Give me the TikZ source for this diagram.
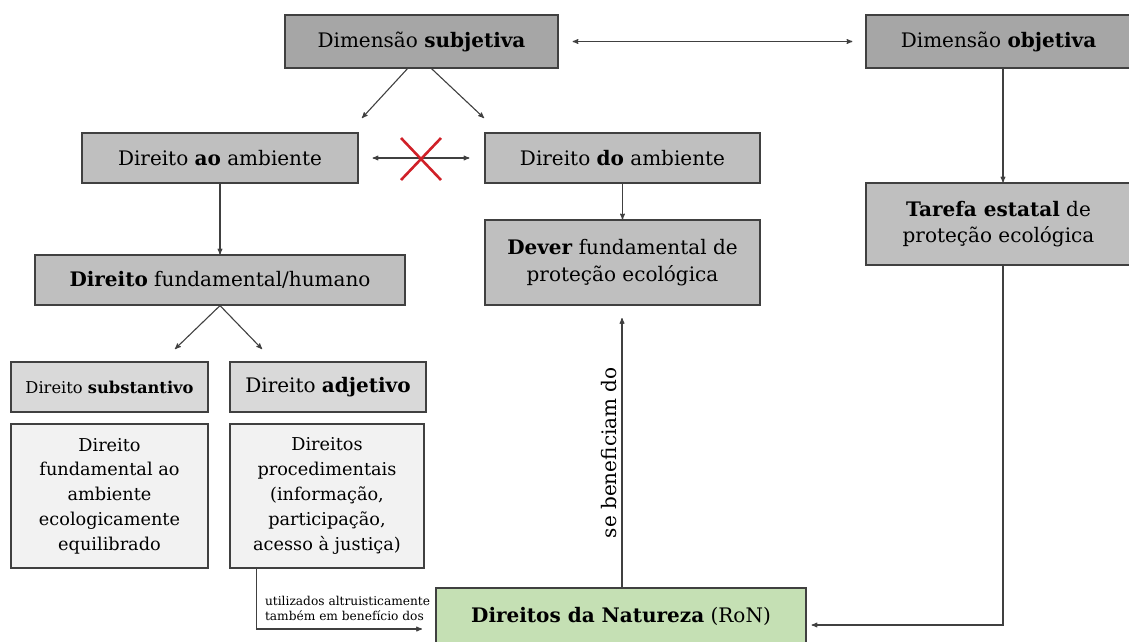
\documentclass[tikz,border=0pt]{standalone}
\usepackage{fontspec}
\setmainfont{DejaVu Serif}
\usepackage{tikz}
\usetikzlibrary{arrows}
\tikzset{>=stealth'}
\definecolor{boxline}{RGB}{64,64,64}
\definecolor{darkfill}{RGB}{166,166,166}
\definecolor{midfill}{RGB}{191,191,191}
\definecolor{lightfill}{RGB}{217,217,217}
\definecolor{palefill}{RGB}{242,242,242}
\definecolor{ronfill}{RGB}{197,224,180}
\definecolor{crossred}{RGB}{208,32,40}
\newcommand{\mainsz}{\fontsize{20}{26.5}\selectfont}
\newcommand{\bodysz}{\fontsize{17.7}{24.8}\selectfont}
\newcommand{\subsz}{\fontsize{16.3}{18}\selectfont}
\newcommand{\notesz}{\fontsize{12.2}{15}\selectfont}
\tikzset{
	box/.style={draw=boxline, line width=1.2pt, inner sep=0pt, align=center, font=\mainsz},
	darkbox/.style={box, fill=darkfill},
	midbox/.style={box, fill=midfill},
	lightbox/.style={box, fill=lightfill},
	palebox/.style={box, fill=palefill, font=\bodysz},
	ronbox/.style={box, fill=ronfill},
	link/.style={draw=boxline, line width=1.1pt},
}

\begin{document}
\begin{tikzpicture}[x=1pt,y=-1pt]
	\useasboundingbox (0,0) rectangle (1129,641);
	% top row
	\node[darkbox, minimum width=273pt, minimum height=53pt] (subj) at (421.5,41.5) {Dimensão \textbf{subjetiva}};
	\node[darkbox, minimum width=265pt, minimum height=53pt] (obj) at (998.5,41.5) {Dimensão \textbf{objetiva}};
	% second row
	\node[midbox, minimum width=276pt, minimum height=50pt] (ao) at (220,158) {Direito \textbf{ao} ambiente};
	\node[midbox, minimum width=275pt, minimum height=50pt] (do) at (622.5,158) {Direito \textbf{do} ambiente};
	\node[midbox, minimum width=370pt, minimum height=50pt] (fund) at (220,280) {\textbf{Direito} fundamental/humano};
	\node[midbox, minimum width=275pt, minimum height=85pt] (dever) at (622.5,262.5) {\textbf{Dever} fundamental de\\proteção ecológica};
	\node[midbox, minimum width=265pt, minimum height=82pt] (tarefa) at (998.5,224) {\textbf{Tarefa estatal} de\\proteção ecológica};
	% substantive / adjective
	\node[lightbox, minimum width=197pt, minimum height=50pt, font=\subsz] (subst) at (109.5,387) {Direito \textbf{substantivo}};
	\node[lightbox, minimum width=196pt, minimum height=50pt] (adj) at (328,387) {Direito \textbf{adjetivo}};
	\node[palebox, minimum width=197pt, minimum height=144pt] (substbody) at (109.5,496) {Direito\\fundamental ao\\ambiente\\ecologicamente\\equilibrado};
	\node[palebox, minimum width=194pt, minimum height=144pt] (adjbody) at (327,496) {Direitos\\procedimentais\\(informação,\\participação,\\acesso à justiça)};
	% rights of nature
	\node[ronbox, minimum width=370pt, minimum height=56pt] (ron) at (621,616) {\textbf{Direitos da Natureza} (RoN)};

	\coordinate (aotip) at (362,118);
	\coordinate (dotip) at (484,118);
	\coordinate (substtip) at (175,349);
	\coordinate (adjtip) at (262,349);
	\coordinate (devertip) at (622,318);
	\coordinate (adjcorner) at (256.5,629);
	\coordinate (adjend) at (422,629);
	\coordinate (tarefacorner) at (1003,625);

	\draw[link,<->, shorten <=14pt, shorten >=13pt] (subj.east) -- (obj.west);
	\draw[link,->] ([xshift=-14pt]subj.south) -- (aotip);
	\draw[link,->] ([xshift=10pt]subj.south) -- (dotip);
	\draw[link,<->, shorten <=14pt, shorten >=15pt] (ao.east) -- (do.west);
	\draw[crossred, line width=2.6pt] (401,138) -- (441,180) (441,138) -- (401,180);
	\draw[link,->] (ao.south) -- (fund.north);
	\draw[link,->] (do.south) -- (dever.north);
	\draw[link,->] ([xshift=4.5pt]obj.south) -- ([xshift=4.5pt]tarefa.north);
	\draw[link,->] (fund.south) -- (substtip);
	\draw[link,->] (fund.south) -- (adjtip);
	\draw[link,->] (ron.north -| devertip) -- node[above, rotate=90, font=\mainsz, inner sep=5pt] {se beneficiam do} (devertip);
	\draw[link,->] ([xshift=4.5pt]tarefa.south) |- ([xshift=5pt]ron.east |- tarefacorner);
	\draw[link,->] (adjbody.south -| adjcorner) -- (adjcorner)
		node[above right, font=\notesz, align=left, inner sep=2pt, xshift=6pt, yshift=6pt] {utilizados altruisticamente\\também em benefício dos}
		-- (adjend);
\end{tikzpicture}
\end{document}
